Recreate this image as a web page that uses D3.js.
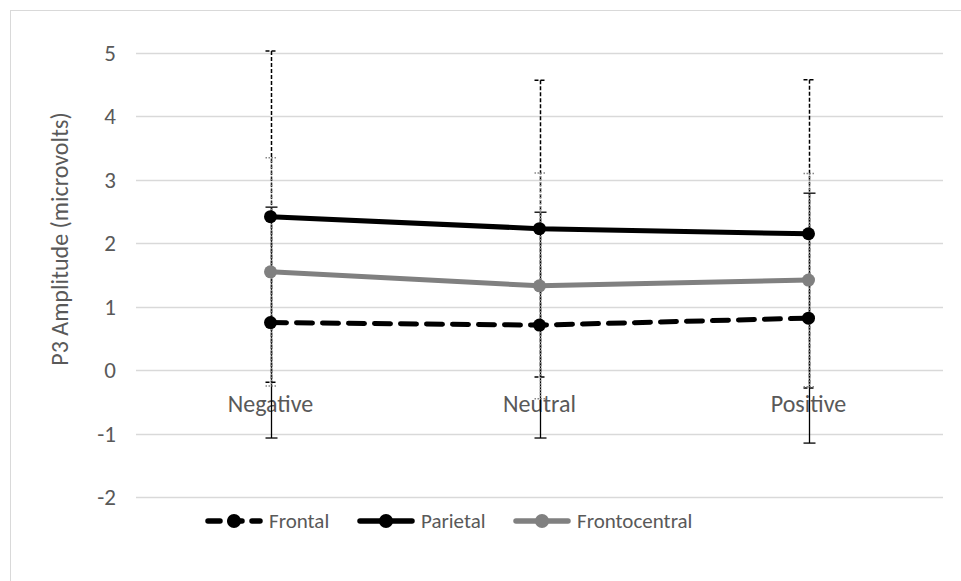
<!DOCTYPE html>
<html>
<head>
<meta charset="utf-8">
<script src="https://cdn.jsdelivr.net/npm/d3@7"></script>
<style>
  body { margin: 0; background: #fff; }
  text { font-family: Carlito, Lato, "Open Sans", sans-serif; fill: #595959; }
</style>
</head>
<body>
<script>
var categories = ["Negative", "Neutral", "Positive"];
var yTicks = [-2, -1, 0, 1, 2, 3, 4, 5];

var frontal = [0.75, 0.71, 0.82];
var frontalErr = [1.82, 1.78, 1.97];
var parietal = [2.42, 2.23, 2.15];
var parietalErr = [2.61, 2.34, 2.43];
var frontocentral = [1.55, 1.33, 1.42];
var frontocentralErr = [1.80, 1.78, 1.68];

var W = 961, H = 581;
var svg = d3.select("body").append("svg").attr("width", W).attr("height", H);

svg.append("rect").attr("x", 10.5).attr("y", 10.5).attr("width", 980).attr("height", 600)
    .attr("fill", "none").attr("stroke", "#d9d9d9");

var x = d3.scaleBand().domain(categories).range([136, 943]);
var y = d3.scaleLinear().domain([-2, 5]).range([497, 53]);
function cx(c) { return x(c) + x.bandwidth() / 2; }

// gridlines
svg.append("g").selectAll("line").data(yTicks).enter().append("line")
    .attr("x1", 136).attr("x2", 943)
    .attr("y1", function (d) { return Math.round(y(d)) + 0.5; })
    .attr("y2", function (d) { return Math.round(y(d)) + 0.5; })
    .attr("stroke", "#d9d9d9").attr("stroke-width", 1.3);

// y labels
svg.append("g").selectAll("text").data(yTicks).enter().append("text")
    .attr("x", 116).attr("y", function (d) { return y(d) + 8; })
    .attr("text-anchor", "end").style("font-size", "23px")
    .text(function (d) { return d; });

svg.append("text").attr("transform", "translate(68,239) rotate(-90)")
    .attr("text-anchor", "middle").style("font-size", "24px")
    .text("P3 Amplitude (microvolts)");

// category labels
svg.append("g").selectAll("text").data(categories).enter().append("text")
    .attr("x", cx).attr("y", y(0) + 42)
    .attr("text-anchor", "middle").style("font-size", "24px")
    .text(function (d) { return d; });

var series = [
    { name: "Frontal", vals: frontal, err: frontalErr, color: "#000", dash: "16,10",
      errColor: "#000", errDash: null, errW: 1.3 },
    { name: "Parietal", vals: parietal, err: parietalErr, color: "#000", dash: null,
      errColor: "#000", errDash: "4,2", errW: 1.5 },
    { name: "Frontocentral", vals: frontocentral, err: frontocentralErr, color: "#808080", dash: null,
      errColor: "#888", errDash: "1.5,1.5", errW: 1.5 }
];

// error bars
series.forEach(function (s) {
    var g = svg.append("g");
    categories.forEach(function (c, i) {
        var xx = Math.round(cx(c)) + 0.5;
        var hi = y(s.vals[i] + s.err[i]), lo = y(s.vals[i] - s.err[i]);
        var attrs = function (sel) {
            sel.attr("stroke", s.errColor).attr("stroke-width", s.errW);
            if (s.errDash) sel.attr("stroke-dasharray", s.errDash);
        };
        g.append("line").attr("x1", xx).attr("x2", xx).attr("y1", hi).attr("y2", lo).call(attrs);
        g.append("line").attr("x1", xx - 6).attr("x2", xx + 6).attr("y1", hi).attr("y2", hi).call(attrs);
        g.append("line").attr("x1", xx - 6).attr("x2", xx + 6).attr("y1", lo).attr("y2", lo).call(attrs);
    });
});

var line = d3.line().x(function (d) { return cx(d[0]); }).y(function (d) { return y(d[1]); });

// draw order: frontocentral, parietal on top; frontal last
[series[2], series[1], series[0]].forEach(function (s) {
    var pts = categories.map(function (c, i) { return [c, s.vals[i]]; });
    var p = svg.append("path").datum(pts).attr("d", line)
        .attr("fill", "none").attr("stroke", s.color).attr("stroke-width", 5)
        .attr("stroke-linecap", "round").attr("stroke-linejoin", "round");
    if (s.dash) p.attr("stroke-dasharray", s.dash);
    svg.append("g").selectAll("circle").data(pts).enter().append("circle")
        .attr("cx", function (d) { return cx(d[0]); })
        .attr("cy", function (d) { return y(d[1]); })
        .attr("r", 6.5).attr("fill", s.color);
});

// legend
var legendX = [205, 357, 513];
var ly = 521;
series.forEach(function (s, i) {
    var x0 = legendX[i];
    var l = svg.append("line").attr("x1", x0 + 3).attr("x2", x0 + 55).attr("y1", ly).attr("y2", ly)
        .attr("stroke", s.color).attr("stroke-width", 5.5).attr("stroke-linecap", "round");
    if (s.dash) l.attr("stroke-dasharray", "12,10");
    svg.append("circle").attr("cx", x0 + 29).attr("cy", ly).attr("r", 7).attr("fill", s.color);
    svg.append("text").attr("x", x0 + 64).attr("y", ly + 7).style("font-size", "21px").text(s.name);
});
</script>
</body>
</html>
